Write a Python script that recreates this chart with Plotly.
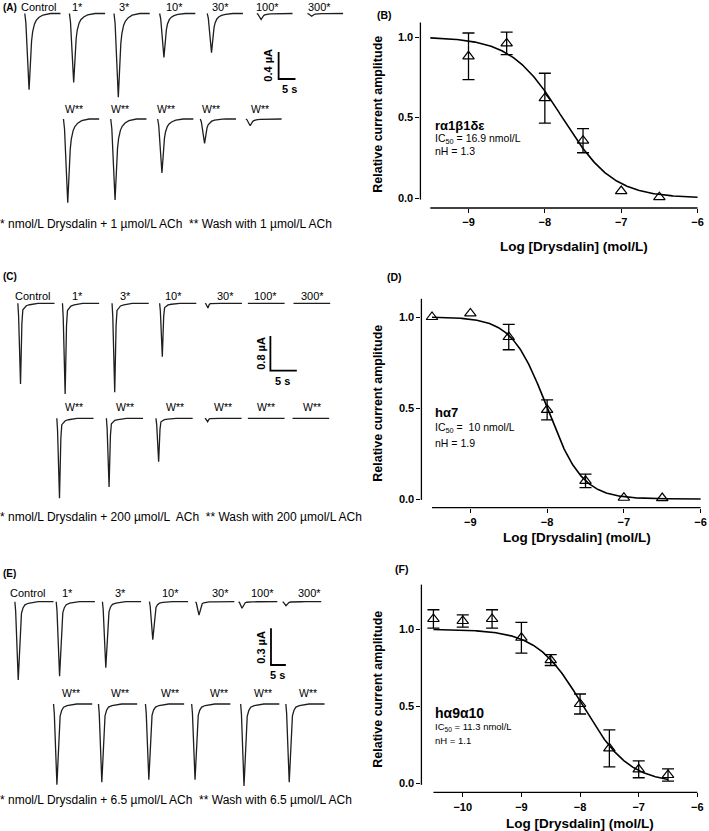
import numpy as np
import plotly.graph_objects as go

W, H = 709, 831
FONT = "Arial, Liberation Sans, Helvetica, sans-serif"

# ------------------------------------------------------------------
# DATA
# ------------------------------------------------------------------
drug_labels = ["Control", "1*", "3*", "10*", "30*", "100*", "300*"]

# peak current amplitudes (µA) of each recorded trace
A_drug_amp = [1.13, 1.02, 1.24, 0.65, 0.58, 0.09, 0.04]
A_wash_amp = [1.24, 1.20, 0.80, 0.36, 0.10]
C_drug_amp = [1.86, 2.09, 2.05, 1.23, 0.11, 0.0, 0.0]
C_wash_amp = [1.84, 1.58, 1.00, 0.08, 0.0, 0.0]
E_drug_amp = [0.64, 0.61, 0.54, 0.31, 0.11, 0.054, 0.033]
E_wash_amp = [0.66, 0.64, 0.62, 0.62, 0.67, 0.64]

# normalised current waveform shapes (fraction of sweep, fraction of peak)
A_shape_t = [0, 0.03, 0.12, 0.14, 0.16, 0.19, 0.22, 0.27, 0.32, 0.40, 0.51, 0.62, 0.72, 1.0]
A_shape_v = [0, -0.12, -1.0, -0.75, -0.55, -0.36, -0.24, -0.14, -0.09, -0.05, -0.02, -0.008, 0, 0]
C_shape_t = [0, 0.02, 0.073, 0.09, 0.11, 0.136, 0.18, 0.23, 0.32, 0.41, 0.55, 1.0]
C_shape_v = [0, -0.15, -1.0, -0.6, -0.25, -0.08, -0.05, -0.03, -0.018, -0.01, 0, 0]
E_shape_t = [0, 0.02, 0.087, 0.11, 0.13, 0.17, 0.21, 0.26, 0.35, 0.48, 0.60, 1.0]
E_shape_v = [0, -0.12, -1.0, -0.75, -0.48, -0.15, -0.08, -0.04, -0.02, -0.01, 0, 0]

# concentration-response data
B_logc = [-9, -8.5, -8, -7.5, -7, -6.5]
B_mean = [0.88, 0.96, 0.62, 0.356, 0.043, 0.005]
B_sem = [0.145, 0.07, 0.155, 0.075, 0, 0]
B_ic50_nM, B_nh = 16.9, 1.3

D_logc = [-9.5, -9, -8.5, -8, -7.5, -7, -6.5]
D_mean = [1.0, 1.02, 0.89, 0.49, 0.10, 0.007, 0.005]
D_sem = [0, 0, 0.07, 0.055, 0.037, 0, 0]
D_ic50_nM, D_nh = 10.0, 1.9

F_logc = [-10.5, -10, -9.5, -9, -8.5, -8, -7.5, -7, -6.5]
F_mean = [1.067, 1.054, 1.067, 0.945, 0.80, 0.515, 0.227, 0.091, 0.054]
F_sem = [0.06, 0.04, 0.06, 0.10, 0.035, 0.065, 0.12, 0.055, 0.04]
F_ic50_nM, F_nh = 11.3, 1.1

# ------------------------------------------------------------------
# LAYOUT (pixel geometry)
# ------------------------------------------------------------------
trace_panels = [
    dict(name="A", top=0, bottom=235, sx=3.4, sy=67.5, width=36,
         drug=A_drug_amp, wash=A_wash_amp, st=A_shape_t, sv=A_shape_v,
         base=(13.5, 119), x0_drug=[25, 70, 115, 161, 209, 259, 310],
         x0_wash=[64, 111.7, 159, 202, 248],
         lab_drug_x=[39, 78, 126, 176, 222, 270, 322], lab_drug_y=7,
         lab_wash_x=[75, 121, 167, 213, 262], lab_wash_y=109,
         bar=(281, 79), bar_i=0.4, bar_t=5, bar_lab=(270, 65), bar_tlab=(292, 89),
         tag=(1, 8), foot_y=224,
         foot="* nmol/L Drysdalin + 1 µmol/L ACh  ** Wash with 1 µmol/L ACh"),
    dict(name="C", top=260, bottom=530, sx=5.33, sy=43.4, width=37,
         drug=C_drug_amp, wash=C_wash_amp, st=C_shape_t, sv=C_shape_v,
         base=(303.3, 418.3), x0_drug=[18, 63, 113, 161, 207, 250, 296],
         x0_wash=[57.3, 107.3, 157.3, 206.7, 250, 295],
         lab_drug_x=[33, 78, 127, 175, 227, 268, 315], lab_drug_y=296,
         lab_wash_x=[75, 126, 176, 225, 268, 315], lab_wash_y=406.7,
         bar=(272.7, 370.7), bar_i=0.8, bar_t=5, bar_lab=(263, 353), bar_tlab=(285, 381),
         tag=(1, 276), foot_y=517,
         foot="* nmol/L Drysdalin + 200 µmol/L  ACh  ** Wash with 200 µmol/L ACh"),
    dict(name="E", top=560, bottom=831, sx=3.0, sy=122.3, width=39,
         drug=E_drug_amp, wash=E_wash_amp, st=E_shape_t, sv=E_shape_v,
         base=(601.7, 704), x0_drug=[15, 56.7, 103.3, 150.7, 197.3, 240.7, 285],
         x0_wash=[54, 99.3, 146.7, 193.3, 242.7, 288.3],
         lab_drug_x=[28, 68, 122, 172, 222, 265, 312], lab_drug_y=592.7,
         lab_wash_x=[71.7, 120.7, 171.7, 220.7, 265, 310.7], lab_wash_y=692.7,
         bar=(273.3, 665), bar_i=0.3, bar_t=5, bar_lab=(263, 647), bar_tlab=(280, 675),
         tag=(1, 573), foot_y=800,
         foot="* nmol/L Drysdalin + 6.5 µmol/L ACh  ** Wash with 6.5 µmol/L ACh"),
]

cr_panels = [
    dict(name="B", logc=B_logc, mean=B_mean, sem=B_sem, ic50=B_ic50_nM, nh=B_nh,
         ref_x=-9.5, ref_px=434, ppx=77, ref_py=198, ppy=161,
         yax_px=424, yline=(-0.01, 1.09), xax_py=208, xline=(-9.5, -6),
         xticks=[-9, -8, -7, -6], curve=(-9.5, -6), tag=(378, 15),
         ytitle_y=114, xtitle=(579, 246),
         rec="rα1β1δε", rec_size=13, ic_txt="IC<sub>50</sub> = 16.9 nmol/L", ic_size=10.5,
         nh_txt="nH = 1.3", txt_y=(125, 139, 151)),
    dict(name="D", logc=D_logc, mean=D_mean, sem=D_sem, ic50=D_ic50_nM, nh=D_nh,
         ref_x=-9.5, ref_px=435.7, ppx=77.4, ref_py=499, ppy=182,
         yax_px=425, yline=(-0.005, 1.10), xax_py=507.7, xline=(-9.5, -6),
         xticks=[-9, -8, -7, -6], curve=(-9.5, -6), tag=(388, 277),
         ytitle_y=403, xtitle=(582, 537),
         rec="hα7", rec_size=13, ic_txt="IC<sub>50</sub> =  10 nmol/L", ic_size=10.5,
         nh_txt="nH = 1.9", txt_y=(412, 428, 443)),
    dict(name="F", logc=F_logc, mean=F_mean, sem=F_sem, ic50=F_ic50_nM, nh=F_nh,
         ref_x=-10, ref_px=466.7, ppx=59.15, ref_py=783.3, ppy=154,
         yax_px=425, yline=(-0.01, 1.29), xax_py=792.3, xline=(-10.5, -6),
         xticks=[-10, -9, -8, -7, -6], curve=(-10.5, -6.5), tag=(396, 569),
         ytitle_y=689, xtitle=(585, 823),
         rec="hα9α10", rec_size=14, ic_txt="IC<sub>50</sub> = 11.3 nmol/L", ic_size=9.5,
         nh_txt="nH = 1.1", txt_y=(713, 727, 740)),
]

TRACE_COLOR = "#1e1e1e"


def px2x(px):
    return px / W


def py2y(py):
    return 1 - py / H


fig = go.Figure()
layout = dict(width=W, height=H, margin=dict(l=0, r=0, t=0, b=0),
              paper_bgcolor="white", plot_bgcolor="white", showlegend=False,
              font=dict(family=FONT, color="black"))
annotations = []
shapes = []

ax_i = 0
# ---------------- current-trace panels ----------------
for p in trace_panels:
    ax_i += 1
    xa = "x" if ax_i == 1 else f"x{ax_i}"
    ya = "y" if ax_i == 1 else f"y{ax_i}"
    xkey = "xaxis" if ax_i == 1 else f"xaxis{ax_i}"
    ykey = "yaxis" if ax_i == 1 else f"yaxis{ax_i}"
    sx, sy, top, bot = p["sx"], p["sy"], p["top"], p["bottom"]
    pw = 360
    layout[xkey] = dict(domain=[0, pw / W], range=[0, pw / sx], visible=False,
                        anchor=ya, fixedrange=True)
    layout[ykey] = dict(domain=[py2y(bot), py2y(top)], range=[-(bot - top) / sy, 0],
                        visible=False, anchor=xa, fixedrange=True)
    st = np.array(p["st"])
    sv = np.array(p["sv"])
    dur = p["width"] / sx
    for row, (amps, starts) in enumerate([(p["drug"], p["x0_drug"]), (p["wash"], p["x0_wash"])]):
        base_i = -(p["base"][row] - top) / sy
        for amp, x0 in zip(amps, starts):
            t = x0 / sx + st * dur
            i = base_i + sv * amp
            fig.add_trace(go.Scatter(x=t, y=i, mode="lines", xaxis=xa, yaxis=ya,
                                     line=dict(color=TRACE_COLOR, width=1.3),
                                     hoverinfo="skip"))
    # scale bar (bar_i µA by bar_t s)
    bx = p["bar"][0] / sx
    by = -(p["bar"][1] - top) / sy
    fig.add_trace(go.Scatter(x=[bx, bx, bx + p["bar_t"]], y=[by + p["bar_i"], by, by],
                             mode="lines", xaxis=xa, yaxis=ya,
                             line=dict(color="black", width=1.8), hoverinfo="skip"))
    annotations.append(dict(x=px2x(p["bar_lab"][0]), y=py2y(p["bar_lab"][1]), xref="paper", yref="paper",
                            text=f"<b>{p['bar_i']} µA</b>", textangle=-90, showarrow=False,
                            font=dict(size=11), xanchor="center", yanchor="middle"))
    annotations.append(dict(x=px2x(p["bar_tlab"][0]), y=py2y(p["bar_tlab"][1]), xref="paper", yref="paper",
                            text=f"<b>{p['bar_t']} s</b>", showarrow=False,
                            font=dict(size=11), xanchor="center", yanchor="middle"))
    # labels
    for lab, lx in zip(drug_labels, p["lab_drug_x"]):
        annotations.append(dict(x=px2x(lx), y=py2y(p["lab_drug_y"]), xref="paper", yref="paper",
                                text=lab, showarrow=False, font=dict(size=11),
                                xanchor="center", yanchor="middle"))
    for lx in p["lab_wash_x"]:
        annotations.append(dict(x=px2x(lx), y=py2y(p["lab_wash_y"]), xref="paper", yref="paper",
                                text="W**", showarrow=False, font=dict(size=10.5),
                                xanchor="center", yanchor="middle"))
    annotations.append(dict(x=px2x(p["tag"][0]), y=py2y(p["tag"][1]), xref="paper", yref="paper",
                            text=f"<b>({p['name']})</b>", showarrow=False, font=dict(size=10),
                            xanchor="left", yanchor="middle"))
    annotations.append(dict(x=px2x(-2), y=py2y(p["foot_y"]), xref="paper", yref="paper",
                            text=p["foot"], showarrow=False, font=dict(size=12),
                            xanchor="left", yanchor="middle"))

# ---------------- concentration-response panels ----------------
for p in cr_panels:
    ax_i += 1
    xa, ya = f"x{ax_i}", f"y{ax_i}"
    xkey, ykey = f"xaxis{ax_i}", f"yaxis{ax_i}"

    def px_to_val(px, p=p):
        return p["ref_x"] + (px - p["ref_px"]) / p["ppx"]

    def py_to_val(py, p=p):
        return (p["ref_py"] - py) / p["ppy"]

    left_px, right_px = p["yax_px"], 707
    bot_px = p["xax_py"]
    top_px = p["ref_py"] - p["yline"][1] * p["ppy"] - 2
    layout[xkey] = dict(domain=[left_px / W, right_px / W],
                        range=[px_to_val(left_px), px_to_val(right_px)],
                        anchor=ya, showgrid=False, zeroline=False, showline=False,
                        ticks="outside", ticklen=4, tickwidth=1.2, tickcolor="black",
                        tickvals=p["xticks"],
                        ticktext=[f"<b>−{abs(v)}</b>" for v in p["xticks"]],
                        tickfont=dict(size=11), ticklabeloverflow="allow", fixedrange=True)
    layout[ykey] = dict(domain=[py2y(bot_px), py2y(top_px)],
                        range=[py_to_val(bot_px), py_to_val(top_px)],
                        anchor=xa, showgrid=False, zeroline=False, showline=False,
                        ticks="outside", ticklen=4, tickwidth=1.2, tickcolor="black",
                        tickvals=[0, 0.5, 1.0], ticktext=["<b>0.0</b>", "<b>0.5</b>", "<b>1.0</b>"],
                        tickfont=dict(size=11), ticklabeloverflow="allow", fixedrange=True)
    # axis lines (offset SigmaPlot style)
    shapes.append(dict(type="line", xref="paper", yref="paper",
                       x0=left_px / W, x1=left_px / W,
                       y0=py2y(p["ref_py"] - p["yline"][0] * p["ppy"]),
                       y1=py2y(p["ref_py"] - p["yline"][1] * p["ppy"]),
                       line=dict(color="black", width=1.3)))
    shapes.append(dict(type="line", xref="paper", yref="paper",
                       x0=(p["ref_px"] + (p["xline"][0] - p["ref_x"]) * p["ppx"]) / W,
                       x1=(p["ref_px"] + (p["xline"][1] - p["ref_x"]) * p["ppx"]) / W,
                       y0=py2y(bot_px), y1=py2y(bot_px),
                       line=dict(color="black", width=1.3)))
    # Hill fit
    xs = np.linspace(p["curve"][0], p["curve"][1], 300)
    log_ic50 = np.log10(p["ic50"] * 1e-9)
    ys = 1.0 / (1.0 + 10 ** ((xs - log_ic50) * p["nh"]))
    fig.add_trace(go.Scatter(x=xs, y=ys, mode="lines", xaxis=xa, yaxis=ya,
                             line=dict(color="black", width=1.6), hoverinfo="skip"))
    logc = np.array(p["logc"])
    mean = np.array(p["mean"])
    sem = np.array(p["sem"])
    has = sem > 0
    fig.add_trace(go.Scatter(x=logc[has], y=mean[has], mode="markers", xaxis=xa, yaxis=ya,
                             marker=dict(symbol="triangle-up-open", size=10, color="black",
                                         line=dict(width=1.2)),
                             error_y=dict(type="data", array=sem[has], symmetric=True,
                                          color="black", thickness=1.3, width=6),
                             hoverinfo="skip"))
    fig.add_trace(go.Scatter(x=logc[~has], y=mean[~has], mode="markers", xaxis=xa, yaxis=ya,
                             marker=dict(symbol="triangle-up-open", size=10, color="black",
                                         line=dict(width=1.2)),
                             hoverinfo="skip"))
    # titles / text
    annotations.append(dict(x=px2x(381), y=py2y(p["ytitle_y"]), xref="paper", yref="paper",
                            text="<b>Relative current amplitude</b>", textangle=-90,
                            showarrow=False, font=dict(size=12.5),
                            xanchor="center", yanchor="middle"))
    annotations.append(dict(x=px2x(p["xtitle"][0]), y=py2y(p["xtitle"][1]), xref="paper", yref="paper",
                            text="<b>Log [Drysdalin] (mol/L)</b>", showarrow=False,
                            font=dict(size=13.5), xanchor="center", yanchor="middle"))
    annotations.append(dict(x=px2x(p["tag"][0]), y=py2y(p["tag"][1]), xref="paper", yref="paper",
                            text=f"<b>({p['name']})</b>", showarrow=False, font=dict(size=10.5),
                            xanchor="left", yanchor="middle"))
    for txt, size, ty, bold in [(p["rec"], p["rec_size"], p["txt_y"][0], True),
                                (p["ic_txt"], p["ic_size"], p["txt_y"][1], False),
                                (p["nh_txt"], p["ic_size"], p["txt_y"][2], False)]:
        annotations.append(dict(x=px2x(437), y=py2y(ty), xref="paper", yref="paper",
                                text=f"<b>{txt}</b>" if bold else txt, showarrow=False,
                                font=dict(size=size), xanchor="left", yanchor="middle"))

layout["annotations"] = annotations
layout["shapes"] = shapes
fig.update_layout(**layout)
fig.write_html("out.html", config={"displayModeBar": False},
               post_script="document.body.style.margin='0';document.body.style.overflow='hidden';")
